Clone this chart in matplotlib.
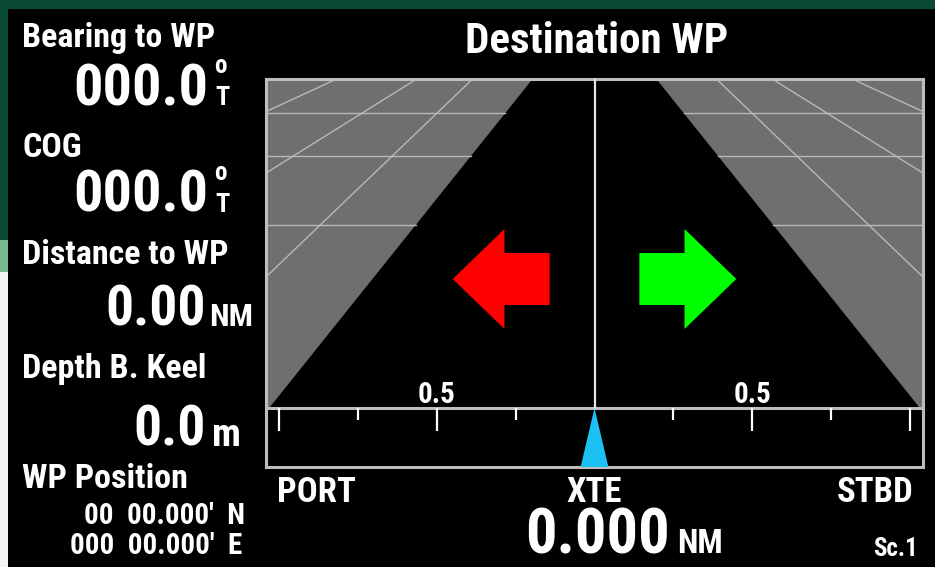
import numpy as np
import matplotlib
matplotlib.use("Agg")
import matplotlib.pyplot as plt
from matplotlib import font_manager

# readouts shown on the left panel
bearing_to_wp = "000.0"
cog = "000.0"
distance_to_wp = "0.00"
depth_keel = "0.0"
wp_lat = "00  00.000'  N"
wp_lon = "000  00.000'  E"

# cross track error (NM)
xte = 0.0
xte_text = "0.000"

# XTE scale ticks (NM)
minor_ticks = [-0.75, -0.25, 0.25, 0.75]
major_ticks = [-1.0, -0.5, 0.5, 1.0]
label_ticks = [-0.5, 0.5]

# lane half width at the horizon line and at the top of the view (NM)
lane_bottom = 1.03
lane_top = 0.196

# perspective grid of the off-track area (left side, mirrored on the right)
grid_rows = [354, 311, 242]
grid_top_x = [0.816, 0.563, 0.386]
grid_edge_y = [354, 292, 187]

# steer arrows (NM from centre)
arrow_tip = 0.449
arrow_head = 0.285
arrow_tail = 0.142

# narrow font if there is one, else Roboto
FAM, STR = "Roboto", "normal"
narrow = [f for f in font_manager.fontManager.ttflist
          if f.stretch in ("condensed", "semi-condensed", "extra-condensed")
          or "Condensed" in f.name or "Narrow" in f.name]
for key in ("Roboto", "Liberation", "DejaVu", "Noto Sans", "Open Sans"):
    hit = [f for f in narrow if f.name.startswith(key)]
    if hit:
        FAM, STR = hit[0].name, hit[0].stretch
        break

W, H = 935, 567
fig = plt.figure(figsize=(W / 100, H / 100), dpi=100, facecolor="black")

# background / frame in pixel coordinates
bg = fig.add_axes([0, 0, 1, 1])
bg.set_xlim(0, W)
bg.set_ylim(H, 0)
bg.axis("off")
bg.add_patch(plt.Rectangle((0, 0), W, 9, color="#0b4a37", lw=0))
bg.add_patch(plt.Rectangle((0, 0), 8, 240, color="#0b4a37", lw=0))
bg.add_patch(plt.Rectangle((0, 240), 8, 32, color="#79b98b", lw=0))
bg.add_patch(plt.Rectangle((0, 272), 8, H - 272, color="#f4f4f4", lw=0))


def txt(x, y, s, size, ha="left", weight="bold"):
    bg.text(x, y, s, fontsize=size, ha=ha, va="baseline", color="white",
            family=FAM, fontstretch=STR, weight=weight)


def unit_deg(x, y):
    txt(x, y - 32, "o", 18)
    txt(x + 1, y, "T", 19)


txt(22, 47, "Bearing to WP", 24.5)
txt(208, 105, bearing_to_wp, 42, ha="right")
unit_deg(214, 105)
txt(22, 157, "COG", 24.5)
txt(208, 212, cog, 42, ha="right")
unit_deg(214, 212)
txt(22, 264, "Distance to WP", 24.5)
txt(206, 326, distance_to_wp, 40, ha="right")
txt(209, 326, "NM", 23)
txt(22, 378, "Depth B. Keel", 24.5)
txt(206, 446, depth_keel, 40, ha="right")
txt(212, 446, "m", 28)
txt(22, 488, "WP Position", 24.5)
txt(245, 524, wp_lat, 21, ha="right")
txt(242, 554, wp_lon, 21, ha="right")

txt(597, 53, "Destination WP", 31, ha="center")
txt(277, 502, "PORT", 25)
txt(594, 502, "XTE", 25, ha="center")
txt(913, 502, "STBD", 25, ha="right")
txt(670, 553, xte_text, 45, ha="right")
txt(677, 553, "NM", 24)
txt(918, 556, "Sc.1", 18, ha="right")

# XTE view
ax = fig.add_axes([266 / W, (H - 467) / H, 657 / W, 388 / H])
ax.set_facecolor("black")
ax.set_xlim(-1.04, 1.04)
ax.set_ylim(0, 388)
ax.set_xticks([])
ax.set_yticks([])
for s in ax.spines.values():
    s.set_color("#bdbdbd")
    s.set_linewidth(2.2)

hz, top = 59, 388


def half_width(y):
    return lane_bottom + (y - hz) / (top - hz) * (lane_top - lane_bottom)


for sgn in (-1, 1):
    ax.fill([sgn * 1.05, sgn * lane_bottom, sgn * lane_top, sgn * 1.05],
            [hz, hz, top, top], color="#6f6f6f", lw=0, zorder=1)
    for y in grid_rows:
        ax.plot([sgn * half_width(y), sgn * 1.05], [y, y], color="#b8b8b8", lw=1, zorder=2)
    for tx, ey in zip(grid_top_x, grid_edge_y):
        ax.plot([sgn * tx, sgn * 1.05], [top, ey], color="#b8b8b8", lw=1, zorder=2)

ax.axhline(hz, color="#bdbdbd", lw=2.2, zorder=3)
ax.plot([0, 0], [hz, top], color="#e8e8e8", lw=1.6, zorder=3)
ax.vlines(major_ticks, hz - 23, hz, color="white", lw=1.6, zorder=3)
ax.vlines(minor_ticks, hz - 12, hz, color="white", lw=1.6, zorder=3)
for t in label_ticks:
    ax.text(t, hz + 5, f"{abs(t):.1f}", ha="center", va="baseline", color="white",
            fontsize=21, family=FAM, fontstretch=STR, weight="bold")

# steering arrows
ay, hh, sh = 188, 50, 26
ax.fill([-arrow_tip, -arrow_head, -arrow_head, -arrow_tail, -arrow_tail, -arrow_head, -arrow_head],
        [ay, ay + hh, ay + sh, ay + sh, ay - sh, ay - sh, ay - hh], color="#ff0000", lw=0, zorder=4)
ax.fill([arrow_tip, arrow_head, arrow_head, arrow_tail, arrow_tail, arrow_head, arrow_head],
        [ay, ay + hh, ay + sh, ay + sh, ay - sh, ay - sh, ay - hh], color="#00ff00", lw=0, zorder=4)

# XTE pointer
ax.fill([xte - 0.044, xte, xte + 0.044], [0, hz, 0], color="#1cc0f2", lw=0, zorder=4)

fig.savefig("out.png", dpi=100, facecolor="black")
